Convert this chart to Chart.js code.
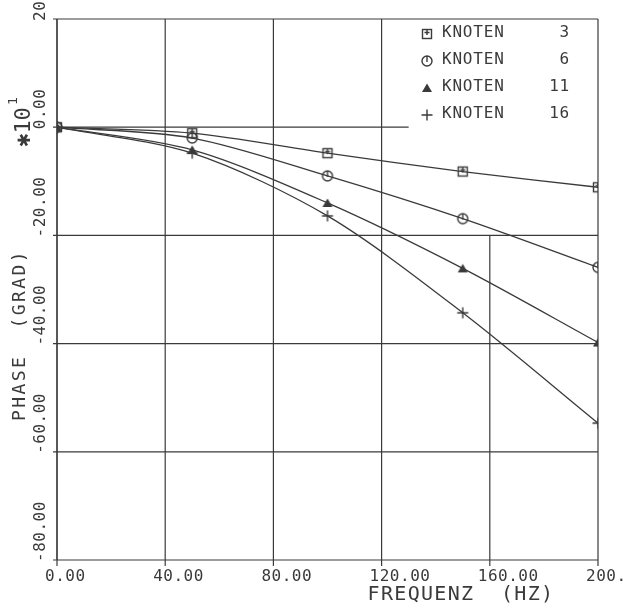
<!DOCTYPE html>
<html>
<head>
<meta charset="utf-8">
<script src="https://cdn.jsdelivr.net/npm/chart.js@4"></script>
<style>
  html, body { margin: 0; padding: 0; background: #fff; }
  #wrap { width: 623px; height: 608px; position: relative; }
</style>
</head>
<body>
<div id="wrap"><canvas id="phaseChart"></canvas></div>
<script>
// frequency (Hz) and phase (*10^1 Grad)
const frequencies = [0, 50, 100, 150, 200];
const knoten3 = [0, -1.1, -4.8, -8.2, -11.1];
const knoten6 = [0, -2.0, -9.0, -16.9, -25.9];
const knoten11 = [0, -4.2, -14.0, -26.1, -39.8];
const knoten16 = [0, -4.8, -16.4, -34.3, -54.7];

const seriesNames = ['KNOTEN', 'KNOTEN', 'KNOTEN', 'KNOTEN'];
const seriesNumbers = ['3', '6', '11', '16'];

const xTicks = [0, 40, 80, 120, 160, 200];
const xTickLabels = ['0.00', '40.00', '80.00', '120.00', '160.00', '200.00'];
const yTicks = [20, 0, -20, -40, -60, -80];
const yTickLabels = ['20.00', '0.00', '-20.00', '-40.00', '-60.00', '-80.00'];

const INK = '#3a3a3a';
const FONT = '"DejaVu Sans Mono", "Liberation Mono", monospace';

// plotter-like marker symbols
function makeMarker(kind) {
  const c = document.createElement('canvas');
  c.width = 14; c.height = 14;
  const g = c.getContext('2d');
  g.strokeStyle = INK; g.fillStyle = INK; g.lineWidth = 1.4;
  if (kind === 'square') {
    g.strokeRect(2.5, 2.5, 9, 9);
    g.beginPath(); g.moveTo(7, 2.5); g.lineTo(7, 8); g.moveTo(4.5, 5.5); g.lineTo(9.5, 5.5); g.stroke();
  } else if (kind === 'circle') {
    g.beginPath(); g.arc(7, 7, 5, 0, Math.PI * 2); g.stroke();
    g.beginPath(); g.moveTo(7, 2); g.lineTo(7, 8); g.stroke();
  } else if (kind === 'triangle') {
    g.beginPath(); g.moveTo(7, 2.5); g.lineTo(12, 11); g.lineTo(2, 11); g.closePath(); g.fill();
  } else {
    g.beginPath(); g.moveTo(7, 1.5); g.lineTo(7, 12.5); g.moveTo(1.5, 7); g.lineTo(12.5, 7); g.stroke();
  }
  return c;
}
const markers = ['square', 'circle', 'triangle', 'plus'].map(makeMarker);

function toPoints(vals) {
  return vals.map((v, i) => ({ x: frequencies[i], y: v }));
}

const seriesData = [knoten3, knoten6, knoten11, knoten16];

const plotterPlugin = {
  id: 'plotter',
  beforeDatasetsDraw(chart) {
    const { ctx, chartArea: a, scales: { x, y } } = chart;
    ctx.save();
    ctx.strokeStyle = INK;
    ctx.lineWidth = 1.2;

    // vertical grid lines (160 only reaches up to -20)
    xTicks.forEach(t => {
      const px = x.getPixelForValue(t);
      const top = t === 160 ? y.getPixelForValue(-20) : a.top;
      ctx.beginPath(); ctx.moveTo(px, a.bottom + 6); ctx.lineTo(px, top); ctx.stroke();
    });
    // horizontal grid lines (0 line stops short of the legend)
    yTicks.forEach(t => {
      const py = y.getPixelForValue(t);
      const right = t === 0 ? x.getPixelForValue(130) : a.right;
      ctx.beginPath(); ctx.moveTo(a.left - 4, py); ctx.lineTo(right, py); ctx.stroke();
    });
    ctx.beginPath(); ctx.moveTo(a.left, a.top); ctx.lineTo(a.left, a.bottom); ctx.stroke();

    ctx.fillStyle = INK;
    ctx.font = '16px ' + FONT;
    ctx.textBaseline = 'middle';
    ctx.textAlign = 'left';
    ctx.letterSpacing = '0.5px';
    xTicks.forEach((t, i) => {
      ctx.fillText(xTickLabels[i], x.getPixelForValue(t) - 12, a.bottom + 17);
    });
    yTicks.forEach((t, i) => {
      const py = y.getPixelForValue(t);
      ctx.save();
      ctx.translate(a.left - 16, py + 2);
      ctx.rotate(-Math.PI / 2);
      ctx.fillText(yTickLabels[i], 0, 0);
      ctx.restore();
    });

    // axis titles
    ctx.font = '20px ' + FONT;
    ctx.letterSpacing = '1.3px';
    ctx.textAlign = 'center';
    ctx.fillText('FREQUENZ  (HZ)', 461, 595);
    ctx.save();
    ctx.font = '18px ' + FONT;
    ctx.letterSpacing = '2.4px';
    ctx.translate(20, 335);
    ctx.rotate(-Math.PI / 2);
    ctx.fillText('PHASE  (GRAD)', 0, 0);
    ctx.restore();

    // scale factor
    ctx.save();
    ctx.letterSpacing = '0px';
    ctx.translate(24, 123);
    ctx.rotate(-Math.PI / 2);
    ctx.font = '22px ' + FONT;
    ctx.fillText('\u2731' + '10', -4, 0);
    ctx.font = '13px ' + FONT;
    ctx.fillText('1', 22, -10);
    ctx.restore();
    ctx.restore();
  },
  afterDraw(chart) {
    const { ctx, chartArea: a } = chart;
    ctx.save();
    ctx.fillStyle = INK;
    ctx.font = '16px ' + FONT;
    ctx.letterSpacing = '0.8px';
    ctx.textBaseline = 'middle';
    seriesNames.forEach((name, i) => {
      const yy = a.top + 14 + i * 27;
      ctx.drawImage(markers[i], a.right - 178, yy - 6);
      ctx.textAlign = 'left';
      ctx.fillText(name, a.right - 156, yy);
      ctx.textAlign = 'right';
      ctx.fillText(seriesNumbers[i], a.right - 28, yy);
    });
    ctx.restore();
  }
};

new Chart(document.getElementById('phaseChart'), {
  type: 'line',
  data: {
    datasets: seriesData.map((vals, i) => ({
      label: seriesNames[i] + ' ' + seriesNumbers[i],
      data: toPoints(vals),
      borderColor: INK,
      borderWidth: 1.3,
      tension: 0.3,
      pointStyle: markers[i],
      pointRadius: 6,
      fill: false
    }))
  },
  options: {
    responsive: true,
    maintainAspectRatio: false,
    animation: false,
    layout: { padding: { left: 57, top: 19, right: 25, bottom: 48 } },
    plugins: {
      legend: { display: false },
      tooltip: { enabled: false }
    },
    scales: {
      x: { type: 'linear', min: 0, max: 200, display: false },
      y: { type: 'linear', min: -80, max: 20, display: false }
    }
  },
  plugins: [plotterPlugin]
});
</script>
</body>
</html>
